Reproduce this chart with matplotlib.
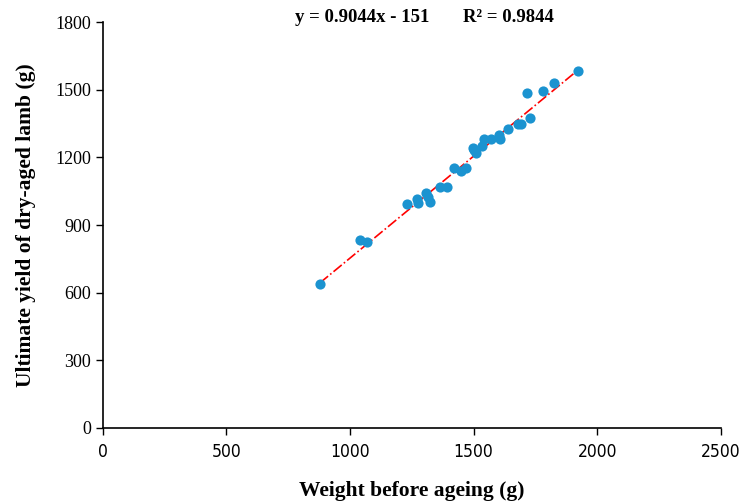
import matplotlib
matplotlib.use('Agg')
import matplotlib.pyplot as plt
import numpy as np

# weight before ageing (g) and ultimate yield (g)
weight = [878, 1040, 1069, 1230, 1271, 1276, 1307, 1316, 1323, 1363, 1393,
          1420, 1447, 1471, 1497, 1501, 1508, 1534, 1544, 1571, 1603, 1606,
          1638, 1680, 1690, 1727, 1715, 1779, 1824, 1924]
yield_g = [637, 833, 826, 993, 1014, 996, 1043, 1025, 1000, 1067, 1070,
           1151, 1138, 1153, 1242, 1232, 1218, 1251, 1280, 1280, 1299, 1280,
           1324, 1349, 1349, 1374, 1485, 1495, 1528, 1584]
slope = 0.9044
intercept = -151
x_ticks = [0, 500, 1000, 1500, 2000, 2500]
y_ticks = [0, 300, 600, 900, 1200, 1500, 1800]

serif = ['Liberation Serif', 'DejaVu Serif']
narrow = ['DejaVu Sans']

fig = plt.figure(figsize=(7.4, 5.04), dpi=100)
ax = fig.add_axes([0.139, 0.151, 0.835, 0.805])

ax.scatter(weight, yield_g, s=54, color='#1b93d0', zorder=3, linewidths=0)
fx = np.array([min(weight), max(weight)])
ax.plot(fx, slope * fx + intercept, color='red', linestyle='-.', linewidth=1.2, zorder=2)

ax.set_xlim(0, 2500)
ax.set_ylim(0, 1800)
ax.set_xticks(x_ticks)
ax.set_yticks(y_ticks)
ax.set_xticklabels([str(t) for t in x_ticks], family=narrow, stretch='condensed', fontsize=12.5)
ax.set_yticklabels([str(t) for t in y_ticks], family=serif, fontsize=13)
ax.tick_params(direction='out', length=5, width=1, colors='black')
ax.tick_params(axis='x', pad=6)
for s in ['top', 'right']:
    ax.spines[s].set_visible(False)
for s in ['left', 'bottom']:
    ax.spines[s].set_linewidth(1.2)

ax.set_xlabel('Weight before ageing (g)', family=serif, fontsize=15.5, fontweight='bold', labelpad=14)
ax.set_ylabel('Ultimate yield of dry-aged lamb (g)', family=serif, fontsize=15.5, fontweight='bold', labelpad=14)

fig.text(362 / 740, 1 - 18 / 504, 'y = 0.9044x - 151', family=serif, fontsize=13.5,
         fontweight='bold', ha='center', va='center')
fig.text(508 / 740, 1 - 18 / 504, 'R² = 0.9844', family=serif, fontsize=13.5,
         fontweight='bold', ha='center', va='center')

fig.savefig('out.png', dpi=100)
